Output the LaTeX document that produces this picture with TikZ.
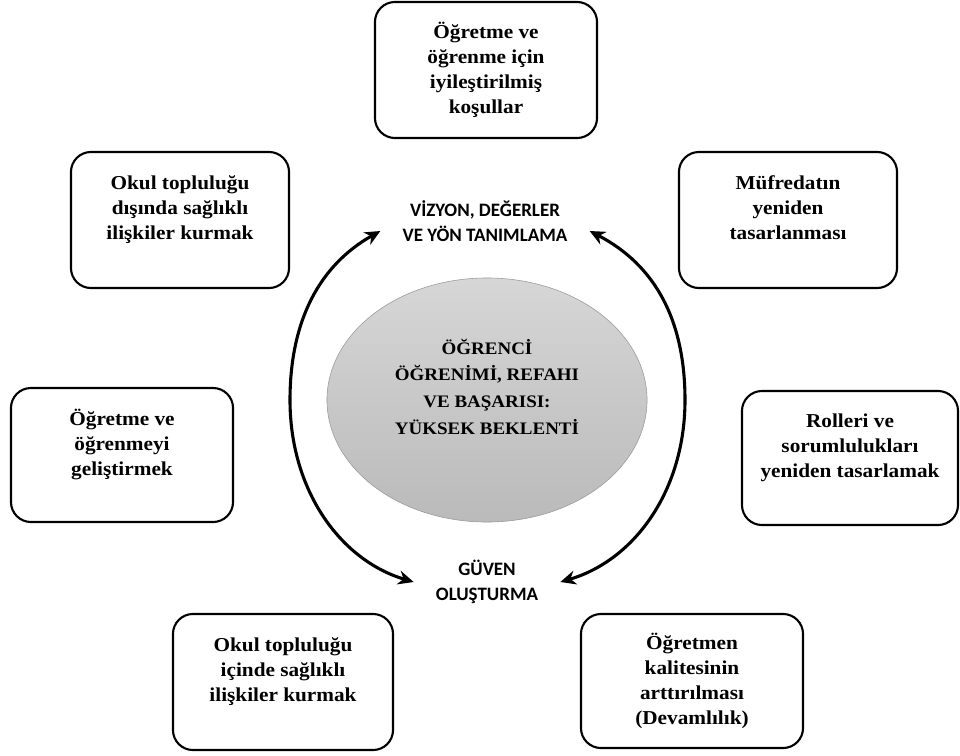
\documentclass[tikz,border=0pt]{standalone}
\usepackage{fontspec}
\setmainfont{Liberation Serif}[FakeStretch=1.08]
\newfontfamily\labelfont{Carlito}
\usetikzlibrary{shapes.geometric,arrows.meta}
\begin{document}
\begin{tikzpicture}[x=0.025cm, y=-0.025cm,
    box/.style={draw, line width=1.5pt, rounded corners=0.5cm, align=center,
      inner sep=0pt, font=\fontsize{14}{17.7}\selectfont\bfseries},
    tag/.style={align=center, inner xsep=0.55cm, inner ysep=0pt,
      font=\labelfont\fontsize{13.5}{17.7}\selectfont\bfseries},
    arc/.style={line width=2.2pt,
      {Stealth[length=11pt,width=10pt]}-{Stealth[length=11pt,width=10pt]}}]
  \useasboundingbox (0,0) rectangle (960,756);
  \draw (486,70) node[box, minimum width=5.55cm, minimum height=3.4cm] (cond)
    {Öğretme ve\\öğrenme için\\iyileştirilmiş\\koşullar};
  \draw (180,220) node[box, minimum width=5.45cm, minimum height=3.4cm] (outer)
    {Okul topluluğu\\dışında sağlıklı\\ilişkiler kurmak\\\mbox{}};
  \draw (788,220) node[box, minimum width=5.45cm, minimum height=3.4cm] (curr)
    {Müfredatın\\yeniden\\tasarlanması\\\mbox{}};
  \draw (122,455) node[box, minimum width=5.55cm, minimum height=3.35cm] (teach)
    {Öğretme ve\\öğrenmeyi\\geliştirmek\\\mbox{}};
  \draw (850,458) node[box, minimum width=5.4cm, minimum height=3.35cm] (roles)
    {Rolleri ve\\sorumlulukları\\yeniden tasarlamak\\\mbox{}};
  \draw (283,682) node[box, minimum width=5.5cm, minimum height=3.4cm] (inner)
    {Okul topluluğu\\içinde sağlıklı\\ilişkiler kurmak\\\mbox{}};
  \draw (692,681) node[box, minimum width=5.55cm, minimum height=3.35cm] (qual)
    {Öğretmen\\kalitesinin\\arttırılması\\(Devamlılık)};
  \draw (487,400) node[ellipse, draw=black!40, top color=black!16, bottom color=black!27,
      minimum width=8cm, minimum height=6.1cm, inner sep=0pt, align=center,
      font=\fontsize{12.5}{19}\selectfont\bfseries] (goal)
    {ÖĞRENCİ\\ÖĞRENİMİ, REFAHI\\VE BAŞARISI:\\YÜKSEK BEKLENTİ\\\mbox{}};
  \draw (485,221) node[tag] (vision) {VİZYON, DEĞERLER\\VE YÖN TANIMLAMA};
  \draw (487,582) node[tag] (trust) {GÜVEN\\OLUŞTURMA};
  \draw[arc] (trust.west) .. controls (340,560) and (290,490) .. (290,400)
    .. controls (290,320) and (320,265) .. ([yshift=-0.25cm]vision.west);
  \draw[arc] (trust.east) .. controls (635,560) and (685,490) .. (685,400)
    .. controls (685,320) and (655,265) .. ([yshift=-0.25cm]vision.east);
\end{tikzpicture}
\end{document}
